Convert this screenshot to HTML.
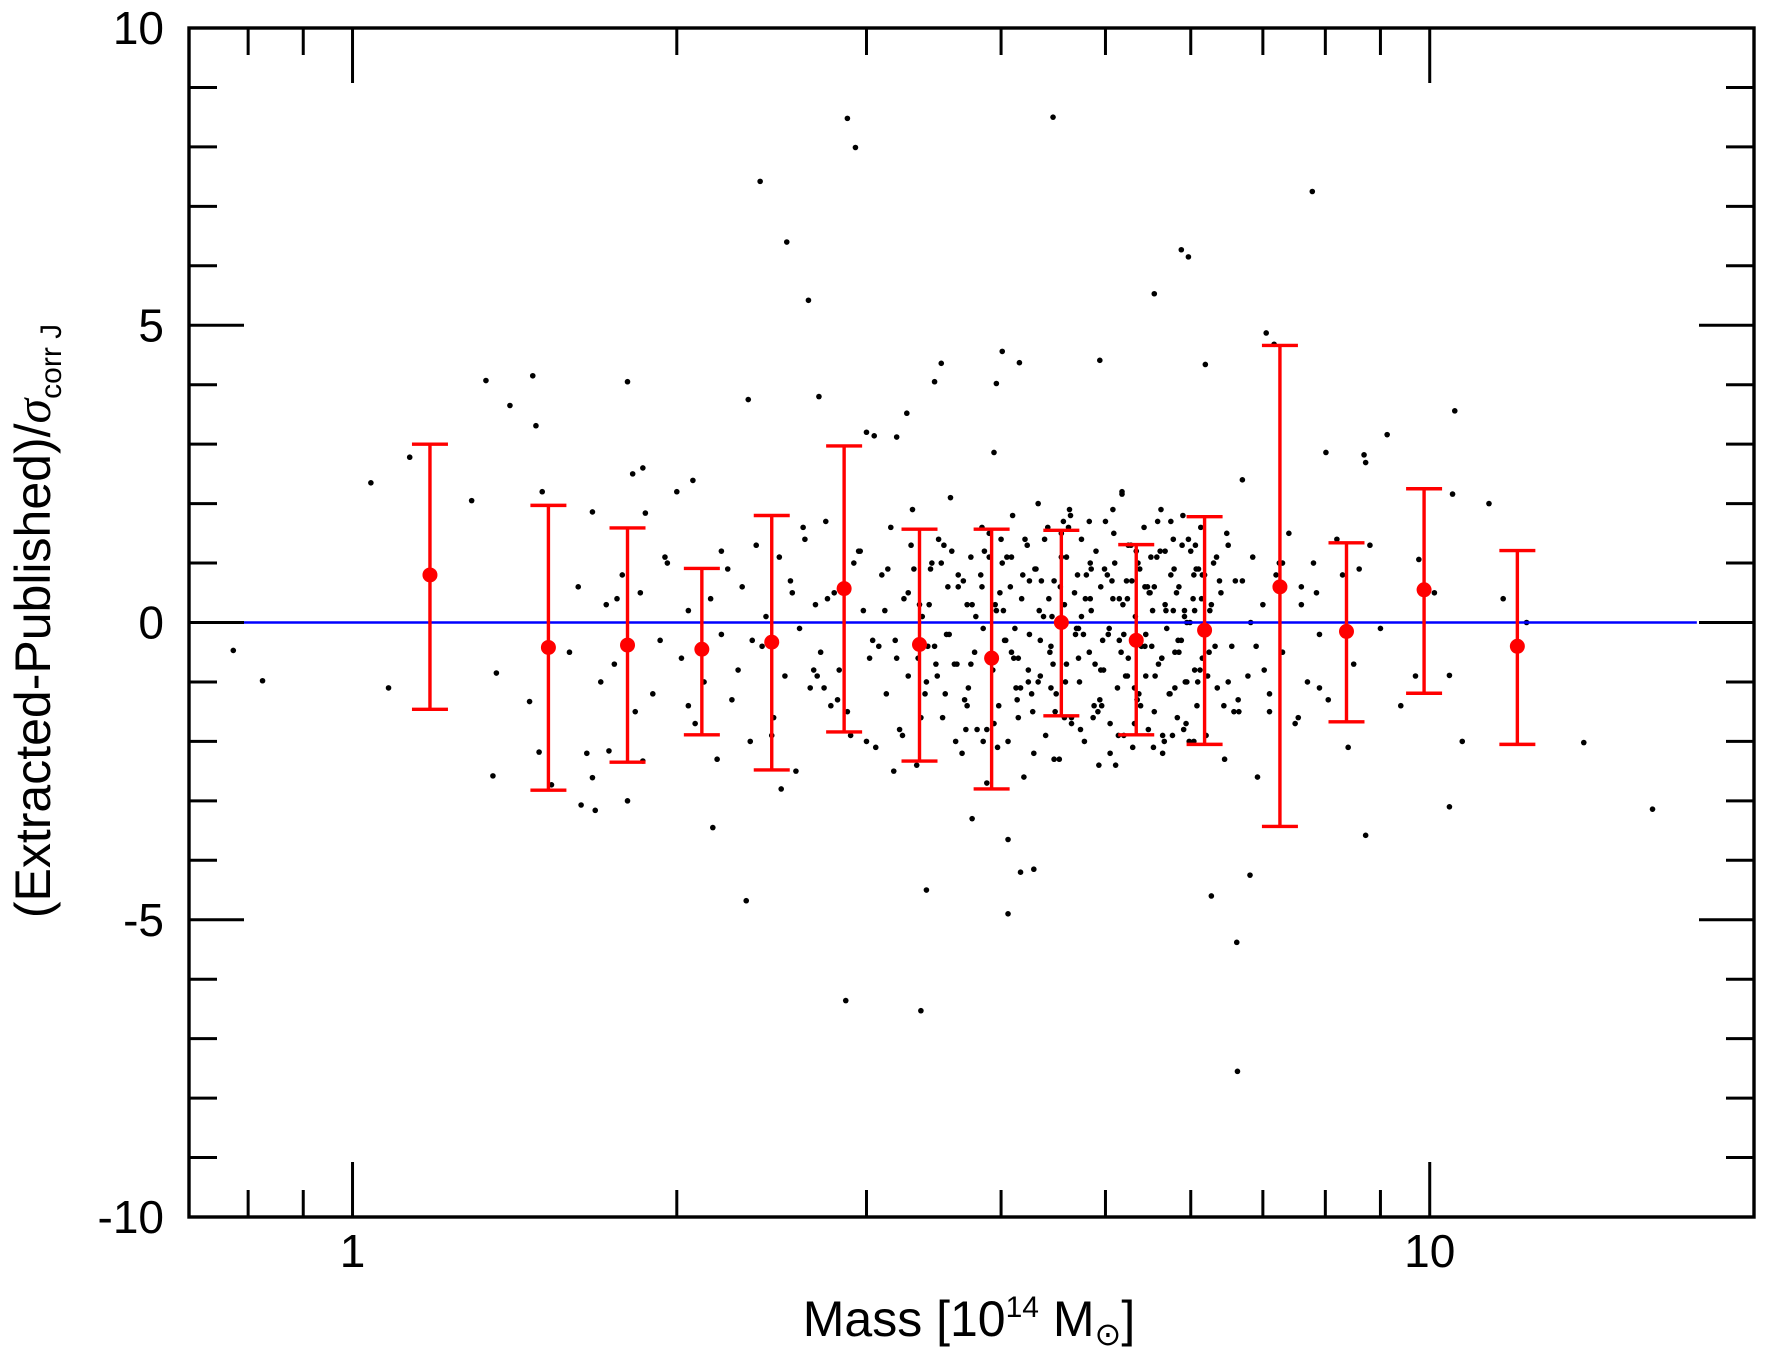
<!DOCTYPE html>
<html><head><meta charset="utf-8"><style>
html,body{margin:0;padding:0;background:#fff;}
svg{display:block;font-family:"Liberation Sans",sans-serif;}
</style></head><body>
<svg id="chart" width="1766" height="1362" viewBox="0 0 1766 1362" xmlns="http://www.w3.org/2000/svg">
<rect x="0" y="0" width="1766" height="1362" fill="#fff"/>
<g id="dots"></g>
<line id="zeroline" stroke="#0000ff" stroke-width="2.6"/>
<g id="bins"></g>
<g id="axes"></g>
<text x="969" y="1336" font-size="50" text-anchor="middle">Mass [10<tspan dy="-19" font-size="30">14</tspan><tspan dy="19"> M</tspan><tspan dy="9" font-size="32">⊙</tspan><tspan dy="-9">]</tspan></text>
<text transform="translate(50,621) rotate(-90)" font-size="50" text-anchor="middle">(Extracted-Published)/<tspan font-style="italic" font-family="Liberation Serif,serif">σ</tspan><tspan dy="11" font-size="30">corr J</tspan></text>
</svg>
<script>
const binMass=[1.18,1.52,1.80,2.11,2.45,2.86,3.36,3.92,4.55,5.34,6.18,7.26,8.37,9.88,12.06];
const binMean=[0.8,-0.42,-0.38,-0.45,-0.33,0.57,-0.37,-0.6,0.0,-0.3,-0.13,0.6,-0.15,0.55,-0.4];
const binHigh=[3.0,1.97,1.59,0.91,1.80,2.97,1.57,1.57,1.55,1.31,1.78,4.66,1.34,2.25,1.21];
const binLow=[-1.46,-2.82,-2.35,-1.89,-2.48,-1.84,-2.33,-2.80,-1.57,-1.89,-2.05,-3.43,-1.67,-1.19,-2.05];
const outMass=[0.775,0.825,1.04,1.08,1.13,1.29,1.33,1.35,1.36,1.40,1.47,1.48,1.46,1.50,1.49,1.53,1.59,1.63,1.68,1.67,1.67,1.73,1.80,1.82,1.86,1.87,1.86,1.80,2.00,2.07,2.16,2.32,2.33,2.39,2.53,2.65,2.71,2.88,2.93,2.87,3.00,3.05,3.20,3.27,3.37,3.41,3.47,3.52,3.76,3.94,3.96,4.01,4.06,4.06,4.16,4.17,4.29,4.47,4.94,5.18,5.55,5.88,5.97,6.19,6.27,6.62,6.63,6.81,7.05,7.17,7.78,8.01,8.69,8.72,8.72,9.13,9.77,10.43,10.5,10.55,10.72,10.43,11.35,11.7,12.3,13.9,16.1];
const outVal=[-0.47,-0.98,2.35,-1.1,2.78,2.05,4.07,-2.58,-0.85,3.65,4.15,3.31,-1.33,2.2,-2.18,-2.73,-0.5,-3.07,-3.16,-2.61,1.86,-2.16,4.05,2.5,2.6,1.84,-2.33,-3.0,2.2,2.39,-3.45,-4.68,3.75,7.42,6.4,5.42,3.8,8.48,7.99,-6.36,3.2,3.14,3.12,3.52,-6.53,-4.5,4.05,4.36,-3.3,2.86,4.02,4.56,-3.65,-4.9,4.37,-4.2,-4.15,8.5,4.41,2.16,5.53,6.27,6.15,4.34,-4.6,-5.38,-7.55,-4.25,4.87,4.68,7.25,2.86,2.82,2.69,-3.58,3.16,1.06,-0.89,2.16,3.56,-2.0,-3.1,2.0,0.4,0.0,-2.02,-3.14];
const coreMass=[1.62,1.65,1.70,1.72,1.75,1.78,1.83,1.85,1.90,1.93,1.96,2.02,2.05,2.08,2.12,2.15,2.18,2.20,2.23,2.25,2.28,2.30,2.34,2.37,2.40,2.42,2.46,2.49,2.52,2.55,2.58,2.60,2.63,2.66,2.69,2.72,2.75,2.78,2.80,2.83,2.90,2.95,2.98,3.02,3.06,3.10,3.13,3.16,3.19,3.22,3.25,3.28,3.31,3.34,3.38,3.41,3.44,3.47,3.50,3.53,3.56,3.59,3.62,3.65,3.68,3.70,3.72,3.75,3.78,3.80,3.83,3.85,3.88,3.90,3.93,3.96,3.98,4.01,4.03,4.06,4.08,4.10,4.13,4.15,4.18,4.20,4.23,4.25,4.28,4.30,4.33,4.35,4.38,4.40,4.42,4.45,4.48,4.50,4.53,4.55,4.58,4.60,4.63,4.65,4.68,4.70,4.73,4.75,4.78,4.80,4.83,4.85,4.88,4.90,4.93,4.95,4.98,5.00,5.03,5.05,5.08,5.10,5.13,5.15,5.18,5.20,5.23,5.25,5.28,5.30,5.33,5.35,5.38,5.40,5.43,5.45,5.48,5.50,5.53,5.55,5.58,5.60,5.63,5.65,5.68,5.70,5.73,5.75,5.78,5.80,5.83,5.85,5.88,5.90,5.93,5.95,5.98,6.00,6.03,6.05,6.08,6.10,6.13,6.15,6.20,6.25,6.30,6.35,6.40,6.45,6.50,6.55,6.60,6.65,6.70,6.78,6.85,6.92,7.00,7.10,7.20,7.30,7.40,7.50,7.60,7.70,7.80,7.90,8.05,8.20,8.40,8.60,8.80,9.00,9.40,9.70,10.1,3.35,3.45,3.55,3.65,3.75,3.85,3.95,4.05,4.15,4.25,4.35,4.45,4.55,4.65,4.75,4.85,4.95,5.05,5.15,5.25,5.35,5.45,5.55,5.65,5.75,5.85,5.95,6.05,6.15,2.88,2.96,3.08,3.18,3.28,3.40,3.52,3.64,3.76,3.88,4.00,4.12,4.24,4.36,4.48,4.60,4.72,4.84,4.96,5.08,5.20,5.32,5.44,5.56,5.68,5.80,5.92,6.04,6.18,6.32,6.48,6.64,6.82,7.02,7.25,7.55,7.85,2.50,2.62,2.74,3.04,3.14,3.24,3.36,3.48,3.60,3.72,3.84,3.97,4.09,4.21,4.33,4.46,4.58,4.71,4.83,4.97,5.11,5.24,5.37,5.51,5.64,5.78,5.91,6.06,6.22,6.38,6.58,6.75,6.95,7.15,7.35];
const coreVal=[0.6,-2.2,-1.0,0.3,-0.7,0.8,-1.5,0.5,-1.2,-0.3,1.0,-0.6,0.2,-1.7,-1.0,0.4,-2.3,-0.2,0.9,-1.3,-0.8,0.6,-2.0,1.3,-0.4,0.1,-1.6,1.1,-0.9,0.7,-2.5,-0.1,1.4,-1.1,0.3,-0.5,1.7,-1.4,0.5,-0.8,-1.9,1.2,0.2,-0.6,-2.1,0.8,-1.2,1.6,-0.3,-1.8,0.4,-0.9,1.9,-2.4,0.1,-1.0,0.9,-0.4,1.4,-1.6,-0.2,2.1,-0.7,0.6,-2.2,-1.3,0.3,1.1,-0.5,-1.8,0.8,-0.1,-2.7,1.5,-0.8,0.2,-1.4,1.0,-0.3,-2.0,0.6,1.8,-1.1,-0.6,0.4,-2.6,1.3,-0.2,-1.5,0.9,2.0,-0.9,0.1,-1.9,1.6,-0.4,0.7,-1.2,-2.3,1.1,0.3,-0.7,1.9,-1.6,0.5,-0.1,-1.0,1.4,-2.0,0.8,-0.5,0.2,-1.4,1.2,-2.4,0.6,-0.8,1.7,-0.2,-1.7,0.4,1.0,-1.1,-0.3,2.2,-1.9,0.7,-0.6,1.3,-2.1,0.1,-1.3,0.9,-0.4,1.6,-0.9,-1.8,0.5,0.2,-1.5,1.1,-0.7,1.9,-2.2,0.3,-0.1,-1.2,0.8,1.4,-0.5,-1.6,0.6,-0.3,1.8,-1.0,0.0,-2.0,1.2,0.4,-0.8,-1.4,0.9,1.6,-0.6,-1.9,0.2,1.0,-1.1,0.5,-2.3,1.3,-0.4,0.7,-1.5,2.4,-0.9,1.1,-2.6,0.3,-1.2,0.8,-0.5,1.5,-1.7,0.6,-1.0,1.0,-0.2,-1.3,1.4,-2.1,0.9,1.3,-0.1,-1.4,-0.9,0.5,-0.6,1.0,-1.2,0.8,-0.7,-2.0,0.3,1.1,-1.6,0.7,-0.3,-1.1,1.5,-1.7,0.1,0.9,-0.8,-2.2,0.4,1.3,-1.3,-0.2,0.6,-1.9,1.7,-0.5,-1.0,0.2,0.8,-1.5,1.2,-0.4,-2.5,0.5,-1.2,1.0,-0.7,0.3,-1.8,1.4,-0.1,-1.0,0.7,-2.3,1.1,-0.6,0.4,-1.4,1.9,-0.2,-1.7,0.6,-0.9,1.2,-1.1,0.2,-2.0,0.8,-0.4,1.5,-1.3,0.0,-0.8,1.0,-1.6,0.5,-2.8,1.6,-1.1,-0.3,0.9,-1.9,0.3,-0.7,1.2,-1.4,0.6,-2.1,-0.5,1.4,-1.0,0.1,-1.6,0.8,1.7,-0.3,-2.4,0.4,-1.2,1.1,-0.6,0.2,-1.8,1.3,-0.9,0.7,-1.5];
const extraMass=[3.32,3.37,3.43,3.49,3.54,3.58,3.63,3.69,3.73,3.79,3.84,3.89,3.94,3.99,4.04,4.09,4.14,4.19,4.24,4.29,4.34,4.39,4.44,4.49,4.54,4.59,4.64,4.69,4.74,4.79,4.84,4.89,4.94,4.99,5.04,5.09,5.14,5.19,5.24,5.29,5.34,5.39,5.44,5.49,5.54,5.59,5.64,5.69,5.74,5.79,5.84,5.89,5.94,5.99,6.04,6.09,6.14,6.24,6.34,6.44,3.42,3.57,3.71,3.86,4.02,4.17,4.31,4.47,4.62,4.77,4.92,5.07,5.22,5.36,5.52,5.67,5.82,5.97,6.12,6.27,3.9,4.11,4.27,4.43,4.57,4.72,4.87,5.02,5.17,5.32,5.47,5.62,5.77,5.92,6.07,2.70,2.76,2.82,2.92,3.00,3.12,3.20,3.30,6.5,6.7,6.9,7.1,7.3,7.6,7.9,8.3,8.5,2.2,2.35,2.45,2.56,2.68,1.95,2.05,1.76];
const extraVal=[0.9,-1.6,0.3,-0.9,1.3,-0.2,-2.0,0.7,-1.1,0.1,1.6,-0.6,-1.7,0.5,-0.3,1.1,-1.3,0.8,-0.8,-2.2,0.2,1.4,-0.5,-1.5,0.6,-1.0,1.8,-0.2,-1.8,0.4,1.0,-0.7,-1.3,0.9,-0.1,1.5,-1.9,0.3,-0.9,0.7,1.2,-1.4,-0.4,0.5,-2.1,1.7,-0.6,0.2,-1.2,0.9,-0.3,1.3,-1.7,0.0,0.8,-1.0,0.4,-0.5,1.1,-1.4,-0.4,0.6,-1.8,1.2,0.2,-1.1,0.9,-0.7,1.6,-0.2,-1.5,0.7,-0.9,1.0,-0.4,-2.0,0.5,1.4,-0.8,0.3,1.1,-0.6,-1.2,0.4,1.7,-0.1,-1.6,0.8,-0.5,-1.1,0.6,1.2,-1.9,0.1,0.9,-0.9,0.4,-1.3,1.0,-2.0,0.2,-0.6,1.3,-1.0,0.7,-0.4,-1.5,1.0,0.3,-1.1,0.8,-0.7,1.2,-0.3,-1.9,0.5,-0.8,1.1,-1.4,0.4];
const xTickMajor=[1,10];
const xTickMinor=[0.8,0.9,2,3,4,5,6,7,8,9,20];
const xTickLabels=["1","10"];
const yTickMajor=[-10,-5,0,5,10];
const yTickMinor=[-9,-8,-7,-6,-4,-3,-2,-1,1,2,3,4,6,7,8,9];
const yTickLabels=["-10","-5","0","5","10"];

const L=189,R=1754,T=28,B=1217,XMIN=0.705,XMAX=20,YMIN=-10,YMAX=10;
const xs=m=>L+(Math.log10(m)-Math.log10(XMIN))/(Math.log10(XMAX)-Math.log10(XMIN))*(R-L);
const ys=v=>B-(v-YMIN)/(YMAX-YMIN)*(B-T);
const NS="http://www.w3.org/2000/svg";
function mk(tag,parent,attrs){const e=document.createElementNS(NS,tag);for(const k in attrs)e.setAttribute(k,attrs[k]);parent.appendChild(e);return e;}

const dots=document.getElementById('dots');
function dot(m,v){const c=mk('circle',dots,{cx:xs(m),cy:ys(v),r:2.8,fill:'#000'});

}
outMass.forEach((m,i)=>dot(m,outVal[i]));
coreMass.forEach((m,i)=>{if(i<coreVal.length)dot(m,coreVal[i]);});
extraMass.forEach((m,i)=>{if(i<extraVal.length)dot(m,extraVal[i]);});

const zl=document.getElementById('zeroline');
zl.setAttribute('x1',xs(0.79));zl.setAttribute('x2',xs(17.7));zl.setAttribute('y1',ys(0));zl.setAttribute('y2',ys(0));

const bins=document.getElementById('bins');
binMass.forEach((m,i)=>{
 const x=xs(m);
 const g=mk('g',bins,{});
 
 
 mk('line',g,{x1:x,x2:x,y1:ys(binHigh[i]),y2:ys(binLow[i]),stroke:'#ff0000','stroke-width':3.4});
 mk('line',g,{x1:x-18,x2:x+18,y1:ys(binHigh[i]),y2:ys(binHigh[i]),stroke:'#ff0000','stroke-width':3.4});
 mk('line',g,{x1:x-18,x2:x+18,y1:ys(binLow[i]),y2:ys(binLow[i]),stroke:'#ff0000','stroke-width':3.4});
 mk('circle',g,{cx:x,cy:ys(binMean[i]),r:7.5,fill:'#ff0000'});
});

const ax=document.getElementById('axes');
const frame=mk('rect',ax,{x:L,y:T,width:R-L,height:B-T,fill:'none',stroke:'#000','stroke-width':3.4});


function tk(x1,y1,x2,y2){mk('line',ax,{x1,y1,x2,y2,stroke:'#000','stroke-width':3});}
xTickMajor.forEach(m=>{const x=xs(m);tk(x,B,x,B-55);tk(x,T,x,T+55);});
xTickMinor.forEach(m=>{const x=xs(m);if(x>L&&x<R){tk(x,B,x,B-27);tk(x,T,x,T+27);}});
yTickMajor.forEach(v=>{const y=ys(v);tk(L,y,L+55,y);tk(R,y,R-55,y);});
yTickMinor.forEach(v=>{const y=ys(v);tk(L,y,L+28,y);tk(R,y,R-28,y);});
xTickMajor.forEach((m,i)=>{const t=mk('text',ax,{x:xs(m),y:1267,'font-size':46,'text-anchor':'middle'});t.textContent=xTickLabels[i];

});
yTickMajor.forEach((v,i)=>{const t=mk('text',ax,{x:164,y:ys(v)+16,'font-size':46,'text-anchor':'end'});t.textContent=yTickLabels[i];

});
</script>
</body></html>
